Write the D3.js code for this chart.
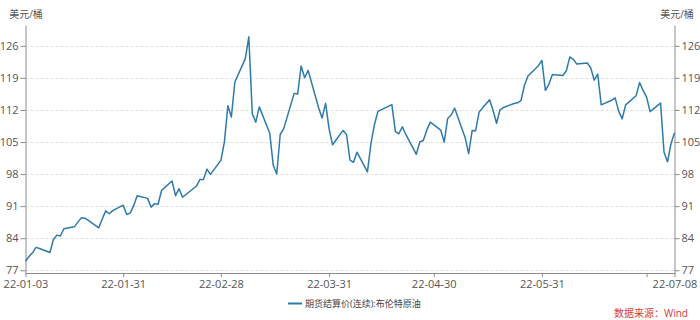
<!DOCTYPE html>
<html>
<head>
<meta charset="utf-8">
<script src="https://cdn.jsdelivr.net/npm/d3@7"></script>
<style>
  body { margin: 0; background: #fff; }
  svg text { font-family: "Open Sans", "Noto Sans CJK SC", sans-serif; }
</style>
</head>
<body>
<div id="chart"></div>
<script>
// 期货结算价(连续):布伦特原油, 美元/桶
const dates = [
    '2022-01-03','2022-01-04','2022-01-05','2022-01-06','2022-01-07','2022-01-10','2022-01-11','2022-01-12','2022-01-13','2022-01-14',
    '2022-01-17','2022-01-18','2022-01-19','2022-01-20','2022-01-21','2022-01-24','2022-01-25','2022-01-26','2022-01-27','2022-01-28',
    '2022-01-31','2022-02-01','2022-02-02','2022-02-03','2022-02-04','2022-02-07','2022-02-08','2022-02-09','2022-02-10','2022-02-11',
    '2022-02-14','2022-02-15','2022-02-16','2022-02-17','2022-02-18','2022-02-21','2022-02-22','2022-02-23','2022-02-24','2022-02-25',
    '2022-02-28','2022-03-01','2022-03-02','2022-03-03','2022-03-04','2022-03-07','2022-03-08','2022-03-09','2022-03-10','2022-03-11',
    '2022-03-14','2022-03-15','2022-03-16','2022-03-17','2022-03-18','2022-03-21','2022-03-22','2022-03-23','2022-03-24','2022-03-25',
    '2022-03-28','2022-03-29','2022-03-30','2022-03-31','2022-04-01','2022-04-04','2022-04-05','2022-04-06','2022-04-07','2022-04-08',
    '2022-04-11','2022-04-12','2022-04-13','2022-04-14','2022-04-18','2022-04-19','2022-04-20','2022-04-21','2022-04-22','2022-04-25',
    '2022-04-26','2022-04-27','2022-04-28','2022-04-29','2022-05-02','2022-05-03','2022-05-04','2022-05-05','2022-05-06','2022-05-09',
    '2022-05-10','2022-05-11','2022-05-12','2022-05-13','2022-05-16','2022-05-17','2022-05-18','2022-05-19','2022-05-20','2022-05-23',
    '2022-05-24','2022-05-25','2022-05-26','2022-05-27','2022-05-30','2022-05-31','2022-06-01','2022-06-02','2022-06-03','2022-06-06',
    '2022-06-07','2022-06-08','2022-06-09','2022-06-10','2022-06-13','2022-06-14','2022-06-15','2022-06-16','2022-06-17','2022-06-20',
    '2022-06-21','2022-06-22','2022-06-23','2022-06-24','2022-06-27','2022-06-28','2022-06-29','2022-06-30','2022-07-01','2022-07-04',
    '2022-07-05','2022-07-06','2022-07-07','2022-07-08'
];
const prices = [
    78.98, 80.00, 80.80, 81.99, 81.75, 80.87, 83.72, 84.67, 84.47, 86.06,
    86.48, 87.51, 88.44, 88.38, 87.89, 86.27, 88.20, 89.96, 89.34, 90.03,
    91.21, 89.16, 89.47, 91.11, 93.27, 92.69, 90.78, 91.55, 91.41, 94.44,
    96.48, 93.28, 94.81, 92.97, 93.54, 95.39, 96.84, 96.84, 99.08, 97.93,
    100.99, 104.97, 112.93, 110.46, 118.11, 123.21, 127.98, 111.14, 109.33, 112.67,
    106.90, 99.91, 98.02, 106.64, 107.93, 115.62, 115.48, 121.60, 119.03, 120.65,
    112.48, 110.23, 113.45, 107.91, 104.39, 107.53, 106.64, 101.07, 100.58, 102.78,
    98.48, 104.64, 108.78, 111.70, 113.16, 107.25, 106.80, 108.33, 106.65, 102.32,
    104.99, 105.32, 107.59, 109.34, 107.58, 104.97, 110.14, 110.90, 112.39, 105.94,
    102.46, 107.51, 107.45, 111.55, 114.24, 111.93, 109.11, 112.04, 112.55, 113.42,
    113.56, 114.03, 117.40, 119.43, 121.67, 122.84, 116.29, 117.61, 119.72, 119.51,
    120.57, 123.58, 123.07, 122.01, 122.27, 121.17, 118.51, 119.81, 113.12, 114.13,
    114.65, 111.74, 110.05, 113.12, 115.09, 117.98, 116.26, 114.81, 111.63, 113.50,
    102.77, 100.69, 104.65, 107.02
];
const yTicks = [77, 84, 91, 98, 105, 112, 119, 126];
const xTickDates = ['2022-01-03','2022-01-31','2022-02-28','2022-03-31','2022-04-30','2022-05-31','2022-06-30','2022-07-08'];
const xTickLabels = ['22-01-03','22-01-31','22-02-28','22-03-31','22-04-30','22-05-31','','22-07-08'];
const unitLabel = '美元/桶';
const seriesName = '期货结算价(连续):布伦特原油';
const sourceText = '数据来源：Wind';

const parse = d3.timeParse('%Y-%m-%d');
const data = dates.map((d, i) => ({ date: parse(d), value: prices[i] }));

const W = 700, H = 320;
const plot = { left: 25.5, right: 674.5, top: 25, bottom: 273 };

const svg = d3.select('#chart').append('svg').attr('width', W).attr('height', H);

const x = d3.scaleTime()
    .domain([parse(dates[0]), parse(dates[dates.length - 1])])
    .range([plot.left, plot.right]);
const y = d3.scaleLinear().domain([76.4, 130.55]).range([plot.bottom, plot.top]);

// grid
svg.append('g')
    .selectAll('line')
    .data(yTicks)
    .enter().append('line')
    .attr('x1', plot.left).attr('x2', plot.right)
    .attr('y1', d => Math.round(y(d)) + 0.5).attr('y2', d => Math.round(y(d)) + 0.5)
    .style('stroke', '#e0e0e0')
    .style('stroke-dasharray', '3,2')
    .style('stroke-width', 1);

function styleAxis(g) {
    g.select('.domain').style('stroke', '#8c8c8c');
    g.selectAll('.tick line').style('stroke', '#8c8c8c');
    g.selectAll('.tick text').style('fill', '#555').style('font-size', '11px');
}

// left / right axes
svg.append('g')
    .attr('transform', `translate(${plot.left},0)`)
    .call(d3.axisLeft(y).tickValues(yTicks).tickSize(5).tickSizeOuter(0).tickPadding(2))
    .call(styleAxis);
svg.append('g')
    .attr('transform', `translate(${plot.right},0)`)
    .call(d3.axisRight(y).tickValues(yTicks).tickSize(5).tickSizeOuter(0).tickPadding(2))
    .call(styleAxis);

// bottom axis
svg.append('g')
    .attr('transform', `translate(0,${plot.bottom})`)
    .call(d3.axisBottom(x)
        .tickValues(xTickDates.map(parse))
        .tickFormat((d, i) => xTickLabels[i])
        .tickSize(4).tickSizeOuter(0).tickPadding(3))
    .call(styleAxis);

// unit labels
svg.append('text').attr('x', 26).attr('y', 18).attr('text-anchor', 'middle')
    .style('font-size', '10px').style('fill', '#555').text(unitLabel);
svg.append('text').attr('x', 677).attr('y', 18).attr('text-anchor', 'middle')
    .style('font-size', '10px').style('fill', '#555').text(unitLabel);

// series
const line = d3.line()
    .x(d => x(d.date))
    .y(d => y(d.value));

svg.append('path')
    .datum(data)
    .attr('d', line)
    .style('fill', 'none')
    .style('stroke', '#2e7aab')
    .style('stroke-width', 1.5)
    .style('stroke-linejoin', 'round');

// legend
svg.append('line')
    .attr('x1', 288).attr('x2', 302).attr('y1', 303.5).attr('y2', 303.5)
    .style('stroke', '#2e7aab').style('stroke-width', 2);
svg.append('text').attr('x', 305).attr('y', 307)
    .style('font-size', '9px').style('fill', '#444').text(seriesName);

// source
svg.append('text').attr('x', 688).attr('y', 317).attr('text-anchor', 'end')
    .style('font-size', '10px').style('fill', '#d9383a').text(sourceText);
</script>
</body>
</html>
